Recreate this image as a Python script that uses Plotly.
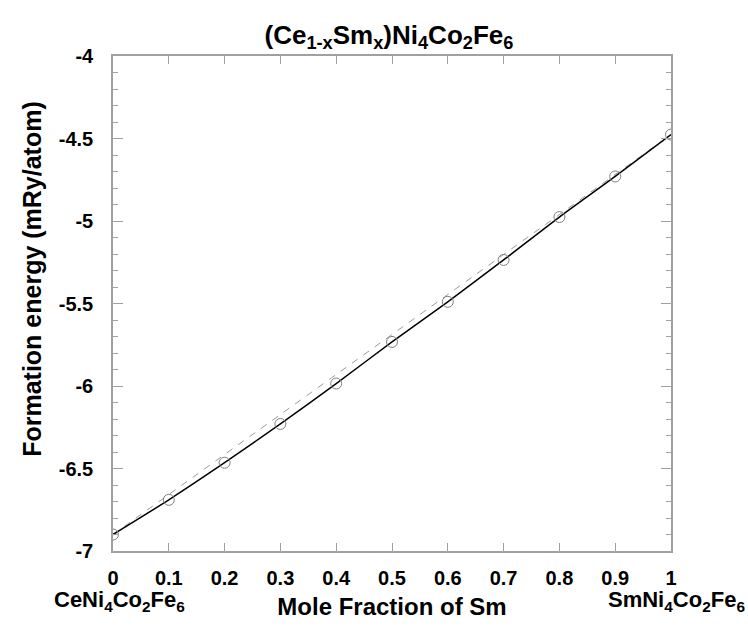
import plotly.graph_objects as go

x_frac = [0, 0.1, 0.2, 0.3, 0.4, 0.5, 0.6, 0.7, 0.8, 0.9, 1.0]
energy = [-6.90, -6.69, -6.465, -6.23, -5.985, -5.733, -5.49, -5.236, -4.976, -4.73, -4.476]
x_ticks = [0, 0.1, 0.2, 0.3, 0.4, 0.5, 0.6, 0.7, 0.8, 0.9, 1]
x_ticktext = ["0", "0.1", "0.2", "0.3", "0.4", "0.5", "0.6", "0.7", "0.8", "0.9", "1"]
y_ticks = [-7, -6.5, -6, -5.5, -5, -4.5, -4]
y_ticktext = ["-7", "-6.5", "-6", "-5.5", "-5", "-4.5", "-4"]

FONT = "Liberation Sans, Arial, sans-serif"
AX = "#a0a0a0"

fig = go.Figure()
# linear reference between end members
fig.add_trace(go.Scatter(x=[x_frac[0], x_frac[-1]], y=[energy[0], energy[-1]],
                         mode="lines", line=dict(color="#9a9a9a", width=1, dash="7px,7px"),
                         hoverinfo="skip", showlegend=False))
fig.add_trace(go.Scatter(x=x_frac, y=energy, mode="lines",
                         line=dict(color="black", width=1.5, shape="spline", smoothing=0.6),
                         showlegend=False))
fig.add_trace(go.Scatter(x=x_frac, y=energy, mode="markers",
                         marker=dict(symbol="circle-open", size=11, color="#808080",
                                     line=dict(width=1, color="#808080")),
                         showlegend=False))

fig.update_layout(
    width=748, height=629,
    margin=dict(l=113, r=77, t=56, b=78),
    plot_bgcolor="white", paper_bgcolor="white",
    font=dict(family=FONT, color="black"),
    title=dict(text="<b>(Ce<sub>1-x</sub>Sm<sub>x</sub>)Ni<sub>4</sub>Co<sub>2</sub>Fe<sub>6</sub></b>",
               x=0.52, xanchor="center", y=0.945, yanchor="middle",
               font=dict(size=26, family=FONT)),
    xaxis=dict(range=[0, 1], tickvals=x_ticks, ticktext=x_ticktext,
               ticks="inside", ticklen=8, tickcolor=AX, tickwidth=1,
               showline=True, linecolor=AX, linewidth=1.5, mirror="ticks",
               showgrid=False, zeroline=False,
               tickfont=dict(size=20, family=FONT, weight="bold"), ticklabelstandoff=8,
               title=dict(text="<b>Mole Fraction of Sm</b>", font=dict(size=24, family=FONT), standoff=10)),
    yaxis=dict(range=[-7, -4], tickvals=y_ticks, ticktext=y_ticktext,
               ticks="inside", ticklen=10, tickcolor=AX, tickwidth=1,
               minor=dict(dtick=0.1, ticks="inside", ticklen=5, tickcolor=AX, tickwidth=1),
               showline=True, linecolor=AX, linewidth=1.5, mirror="ticks",
               showgrid=False, zeroline=False,
               tickfont=dict(size=20, family=FONT, weight="bold"), ticklabelstandoff=14),
)

fig.add_annotation(text="<b>Formation energy (mRy/atom)</b>", textangle=-90,
                   xref="paper", yref="paper", x=-0.145, y=0.55,
                   xanchor="center", yanchor="middle", showarrow=False,
                   font=dict(size=25, family=FONT))
fig.add_annotation(text="<b>CeNi<sub>4</sub>Co<sub>2</sub>Fe<sub>6</sub></b>", xref="paper", yref="paper",
                   x=-0.11, y=-0.1, xanchor="left", yanchor="middle", showarrow=False,
                   font=dict(size=22, family=FONT))
fig.add_annotation(text="<b>SmNi<sub>4</sub>Co<sub>2</sub>Fe<sub>6</sub></b>", xref="paper", yref="paper",
                   x=1.137, y=-0.1, xanchor="right", yanchor="middle", showarrow=False,
                   font=dict(size=22, family=FONT))

fig.write_html("out.html")
